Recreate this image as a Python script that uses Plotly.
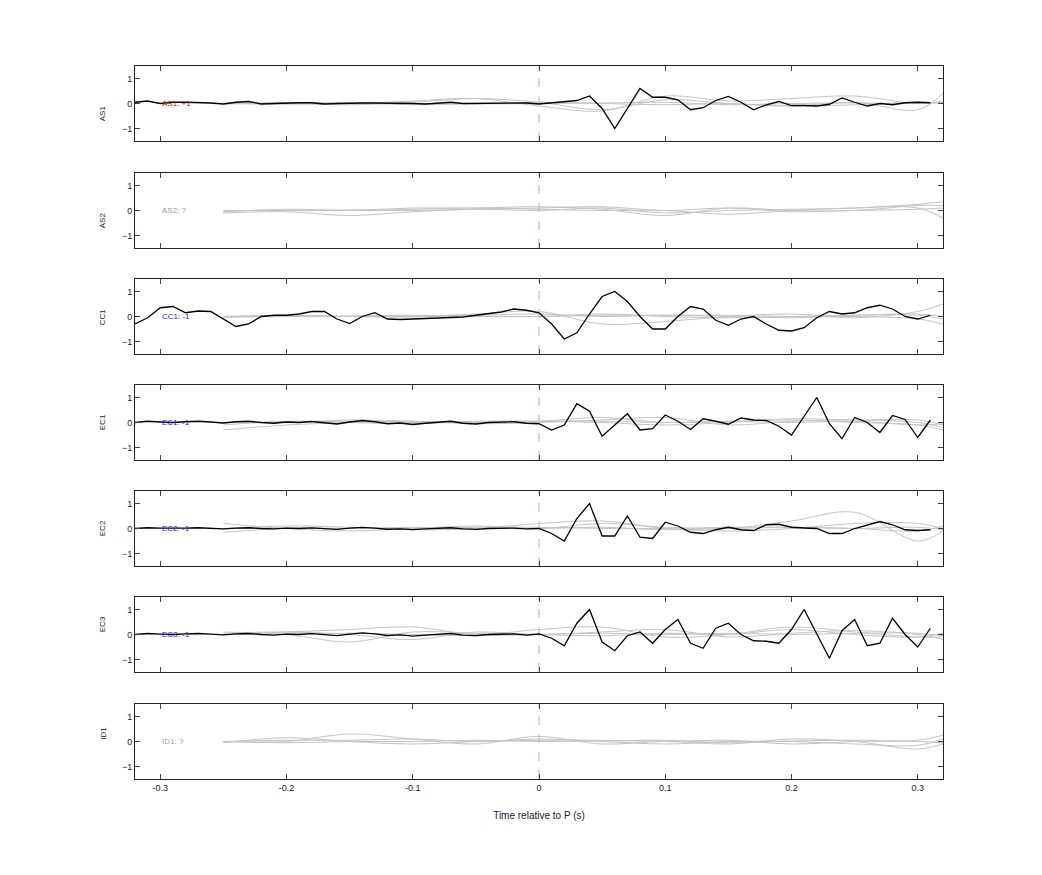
import numpy as np
import plotly.graph_objects as go

t_black = [round(-0.32 + 0.01 * i, 2) for i in range(64)]
t_gray = [-0.25, -0.2, -0.15, -0.1, -0.05, 0.0, 0.05, 0.1, 0.15, 0.2, 0.25, 0.3, 0.32]

channels = ["AS1", "AS2", "CC1", "EC1", "EC2", "EC3", "ID1"]
labels = ["AS1: +1", "AS2: ?", "CC1: -1", "EC1: -1", "EC2: -1", "EC3: -1", "ID1: ?"]
label_colors = ["#cc2222", "#999999", "#2222cc", "#2222cc", "#2222cc", "#2222cc", "#999999"]

pre_small = [0.0, 0.05, 0.02, 0.0, 0.03, 0.05, 0.02, -0.02, 0.03, 0.05, 0.0, -0.03, 0.02, 0.0, 0.04, -0.02,
             -0.06, 0.02, 0.08, 0.03, -0.05, -0.02, -0.08, -0.03, 0.02, 0.05, -0.03, -0.06, 0.0, 0.02, 0.03, -0.03]

black = {
    "AS1": [0.05, 0.1, 0.0, 0.05, 0.05, 0.05, 0.02, -0.02, 0.05, 0.08, -0.02, 0.0, 0.03, 0.03, 0.03, -0.02,
            0.0, 0.02, 0.02, 0.02, 0.02, 0.02, 0.0, -0.02, 0.03, 0.05, 0.0, 0.0, 0.0, 0.02, 0.02, 0.02,
            -0.02, 0.03, 0.1, 0.12, 0.3, -0.2, -1.0, -0.2, 0.6, 0.25, 0.25, 0.15, -0.25, -0.17, 0.12, 0.28,
            0.05, -0.25, -0.05, 0.08, -0.08, -0.08, -0.1, -0.03, 0.22, 0.05, -0.1, 0.0, -0.05, 0.03, 0.05, 0.03],
    "AS2": None,
    "CC1": [-0.3, -0.05, 0.35, 0.4, 0.15, 0.22, 0.2, -0.1, -0.4, -0.3, 0.0, 0.05, 0.05, 0.1, 0.2, 0.2,
            -0.1, -0.28, 0.0, 0.15, -0.1, -0.12, -0.1, -0.07, -0.05, -0.03, -0.02, 0.05, 0.1, 0.18, 0.3, 0.25,
            0.15, -0.3, -0.9, -0.65, 0.1, 0.8, 1.0, 0.6, 0.0, -0.5, -0.5, 0.0, 0.4, 0.3, -0.15, -0.35,
            -0.1, 0.0, -0.3, -0.55, -0.58, -0.45, -0.05, 0.2, 0.1, 0.15, 0.35, 0.45, 0.3, 0.0, -0.1, 0.05],
    "EC1": pre_small + [-0.05, -0.3, -0.1, 0.75, 0.45, -0.55, -0.1, 0.35, -0.3, -0.25, 0.3, 0.05, -0.28, 0.15,
                        0.05, -0.07, 0.18, 0.1, 0.08, -0.15, -0.5, 0.25, 1.0, -0.05, -0.65, 0.2, 0.0, -0.4,
                        0.28, 0.12, -0.6, 0.1],
    "EC2": [v * 0.6 for v in pre_small] + [0.0, -0.2, -0.5, 0.4, 1.0, -0.3, -0.3, 0.5, -0.35, -0.4, 0.25, 0.1,
                                           -0.15, -0.2, -0.05, 0.05, -0.05, -0.08, 0.15, 0.17, 0.05, 0.02, 0.0,
                                           -0.2, -0.2, 0.0, 0.15, 0.28, 0.15, -0.05, -0.08, -0.05],
    "EC3": [v * 0.8 for v in pre_small] + [0.02, -0.15, -0.45, 0.45, 1.0, -0.3, -0.65, -0.05, 0.1, -0.35, 0.2,
                                           0.6, -0.35, -0.55, 0.25, 0.45, 0.0, -0.25, -0.27, -0.35, 0.2, 1.0,
                                           0.0, -0.95, 0.15, 0.6, -0.45, -0.35, 0.65, 0.0, -0.5, 0.25],
    "ID1": None,
}

gray = {
    "AS1": [[0.0, 0.02, -0.05, 0.05, 0.2, 0.05, -0.25, 0.15, 0.0, -0.1, 0.05, -0.25, 0.4],
            [0.02, -0.03, 0.0, 0.1, 0.2, -0.1, -0.3, 0.3, 0.1, 0.2, 0.3, 0.0, 0.1],
            [-0.02, 0.0, 0.03, -0.05, 0.0, 0.05, 0.0, -0.05, 0.0, -0.1, -0.05, 0.05, 0.0],
            [0.0, 0.02, 0.0, 0.0, -0.02, 0.0, 0.02, 0.05, -0.05, 0.0, 0.02, 0.0, 0.05]],
    "AS2": [[-0.1, -0.05, -0.2, -0.05, 0.05, 0.0, 0.1, -0.1, 0.0, 0.05, 0.1, 0.25, 0.35],
            [0.0, 0.0, 0.0, 0.1, 0.1, 0.15, 0.05, -0.2, 0.1, 0.0, 0.0, 0.2, 0.2],
            [-0.05, 0.05, 0.0, 0.05, 0.1, 0.05, 0.0, 0.0, -0.15, 0.0, 0.1, 0.1, -0.3],
            [0.0, 0.0, 0.02, 0.0, 0.05, 0.1, 0.15, 0.0, 0.1, -0.05, 0.0, 0.05, 0.1]],
    "CC1": [[0.0, 0.05, 0.0, 0.0, 0.1, 0.2, -0.3, -0.2, 0.0, 0.1, -0.05, 0.2, 0.5],
            [0.0, 0.0, 0.02, 0.05, 0.0, 0.0, 0.1, 0.0, -0.05, 0.0, 0.05, 0.1, 0.0],
            [-0.03, 0.0, 0.0, -0.02, 0.05, 0.1, 0.0, 0.05, 0.0, -0.05, 0.0, -0.1, -0.3],
            [0.0, 0.02, 0.0, 0.03, 0.02, 0.0, 0.05, 0.05, 0.05, 0.0, 0.05, 0.05, -0.1]],
    "EC1": [[-0.3, -0.1, 0.0, 0.05, 0.0, 0.05, 0.2, 0.0, 0.05, 0.1, 0.0, -0.1, -0.3],
            [0.0, 0.0, 0.1, 0.05, -0.05, 0.0, 0.1, 0.2, -0.1, 0.05, 0.1, 0.0, -0.2],
            [-0.1, 0.05, 0.0, -0.05, 0.05, 0.05, 0.0, -0.1, 0.0, 0.15, 0.1, 0.1, -0.1],
            [0.0, 0.02, 0.05, 0.0, 0.02, 0.05, 0.05, 0.0, 0.05, 0.0, 0.05, -0.1, -0.05]],
    "EC2": [[0.2, 0.0, -0.1, 0.0, 0.1, 0.0, 0.2, 0.05, 0.0, 0.3, 0.65, -0.5, -0.1],
            [0.0, 0.1, 0.05, -0.05, 0.0, 0.2, 0.3, 0.0, -0.1, 0.0, 0.2, 0.2, 0.0],
            [-0.15, 0.0, 0.0, 0.05, 0.0, 0.0, 0.05, -0.05, 0.0, 0.05, 0.0, -0.1, 0.1],
            [0.0, 0.02, 0.0, 0.0, 0.05, 0.05, 0.0, 0.0, 0.05, 0.05, 0.0, 0.05, -0.05]],
    "EC3": [[0.0, 0.1, 0.2, 0.3, 0.0, 0.2, 0.3, -0.1, 0.0, 0.3, 0.1, -0.1, -0.1],
            [0.05, 0.1, 0.0, -0.2, 0.1, 0.0, 0.1, 0.2, -0.1, 0.05, 0.15, 0.0, -0.2],
            [0.1, 0.0, -0.3, 0.1, 0.05, 0.0, -0.05, 0.05, 0.0, 0.2, 0.0, -0.1, 0.05],
            [0.0, 0.02, 0.05, 0.0, -0.05, 0.0, 0.05, 0.0, 0.05, 0.0, 0.05, 0.05, -0.05]],
    "ID1": [[0.0, 0.0, 0.3, 0.1, -0.1, 0.2, -0.1, 0.0, -0.1, 0.1, 0.0, -0.3, -0.1],
            [-0.05, 0.15, 0.0, -0.1, 0.0, 0.05, 0.05, 0.0, 0.05, -0.1, 0.0, 0.05, 0.25],
            [0.0, 0.05, 0.05, 0.1, 0.0, 0.1, 0.0, -0.1, 0.0, 0.0, -0.1, -0.15, 0.1],
            [0.0, -0.05, 0.0, 0.0, 0.05, 0.0, 0.02, 0.05, -0.05, 0.02, 0.05, 0.0, -0.05]],
}

W, H = 1042, 875
tops = [66, 173, 279, 385, 491, 597, 704]
ph = 75
off = 8
mt, mb = 66 - off, 96 + off
area = H - mt - mb

fig = go.Figure()
layout = dict(width=W, height=H, margin=dict(l=135 - off, r=99 + off, t=mt, b=mb),
              plot_bgcolor="white", paper_bgcolor="white", showlegend=False,
              font=dict(family="Liberation Sans, Arial", size=9, color="#222"))
annotations = []
shapes = []
for i, ch in enumerate(channels):
    n = i + 1
    xa = "x" if n == 1 else f"x{n}"
    ya = "y" if n == 1 else f"y{n}"
    top = 1 - (tops[i] - 66) / area
    bot = 1 - (tops[i] + ph - 66) / area
    for g in gray[ch]:
        fig.add_trace(go.Scatter(x=t_gray, y=g, mode="lines", line=dict(color="#c4c4c4", width=1, shape="spline"),
                                 xaxis=xa, yaxis=ya, hoverinfo="skip"))
    if black[ch] is not None:
        fig.add_trace(go.Scatter(x=t_black, y=black[ch], mode="lines", line=dict(color="black", width=1.3),
                                 xaxis=xa, yaxis=ya))
    layout["xaxis" if n == 1 else f"xaxis{n}"] = dict(
        range=[-0.32, 0.32], domain=[0, 1], anchor=ya, tickvals=[-0.3, -0.2, -0.1, 0, 0.1, 0.2, 0.3],
        ticktext=["-0.3", "-0.2", "-0.1", "0", "0.1", "0.2", "0.3"], showticklabels=(n == 7),
        ticks="inside", ticklen=5, mirror="ticks", showline=True, linecolor="#222", showgrid=False,
        zeroline=False, tickfont=dict(size=9),
        title=dict(text="Time relative to P (s)", font=dict(size=10), standoff=20) if n == 7 else None,
        **({} if n == 1 else {"matches": "x"}))
    layout["yaxis" if n == 1 else f"yaxis{n}"] = dict(
        range=[-1.5, 1.5], domain=[bot, top], anchor=xa, tickvals=[-1, 0, 1], ticks="inside", ticklen=5,
        mirror="ticks", showline=True, linecolor="#222", showgrid=False, zeroline=False,
        tickfont=dict(size=9))
    annotations.append(dict(x=-0.3, y=0, xref=xa, yref=ya, text=labels[i], showarrow=False, xanchor="left",
                            font=dict(size=8, color=label_colors[i])))
    annotations.append(dict(x=-0.048, y=(top + bot) / 2, xref="paper", yref="paper", text=ch, showarrow=False,
                            textangle=-90, font=dict(size=8, color="#222")))
    shapes.append(dict(type="line", x0=0, x1=0, y0=-1.5, y1=1.5, xref=xa, yref=ya,
                       line=dict(color="#c8a8a8", width=1, dash="dash"), layer="below"))
layout["annotations"] = annotations
layout["shapes"] = shapes
fig.update_layout(**layout)
fig.write_html("out.html")
